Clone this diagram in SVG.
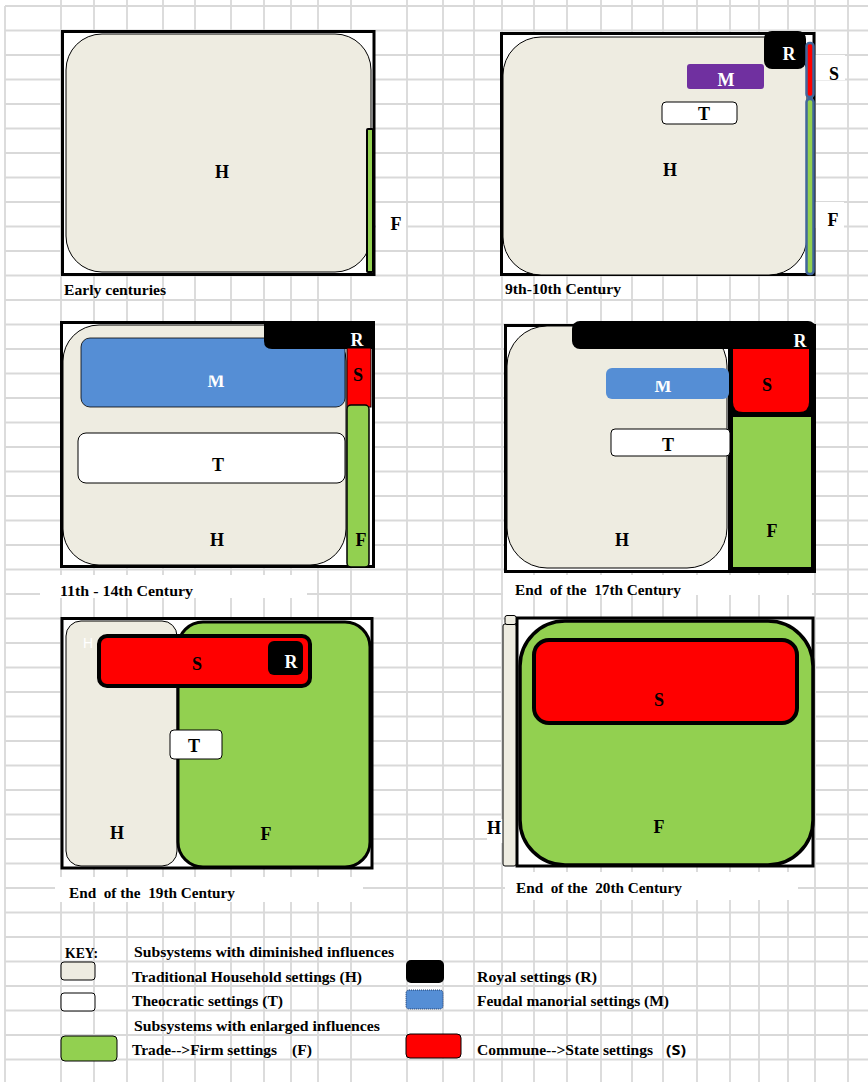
<svg xmlns="http://www.w3.org/2000/svg" width="868" height="1082" viewBox="0 0 868 1082">
<style>
.grid{stroke:#d9d9d9;stroke-width:1.8;fill:none}
.frame{fill:#fff;stroke:#000;stroke-width:3}
.hh{fill:#eeece1;stroke:#000;stroke-width:1}
.wb{fill:#fff;stroke:none}
.big{font-family:"Liberation Serif",serif;font-weight:bold;font-size:18px;text-anchor:middle;fill:#000}
.wt{fill:#fff}
.cap{font-family:"Liberation Serif",serif;font-weight:bold;font-size:15px;fill:#000}
.grn{fill:#92d050}
.red{fill:#ff0000}
.blu{fill:#558ed5}
</style>
<defs>
<clipPath id="c3"><rect x="150" y="375.5" width="140" height="20"/></clipPath>
<clipPath id="c4"><rect x="620" y="381" width="90" height="20"/></clipPath>
</defs>
<rect width="868" height="1082" fill="#fff"/>
<g id="grid" class="grid">
<path d="M5,6V1082M61,0V1082M94,0V1082M127,0V1082M163,0V1082M195,0V1082M231,0V1082M264,0V1082M291,0V1082M318,0V1082M351,0V1082M407,0V1082M443,0V1082M474,0V1082M502,0V1082M534,0V1082M567,0V1082M601,0V1082M632,0V1082M663,0V1082M697,0V1082M730,0V1082M759,0V1082M788,0V1082M815,0V1082M848,0V1082"/>
<path d="M5,6H868M5,30.5H868M5,55H868M5,79.5H868M5,104H868M5,128.5H868M5,153H868M5,177.5H868M5,202H868M5,226.5H868M5,251H868M5,275.5H868M5,300H868M5,324.5H868M5,349H868M5,373.5H868M5,398H868M5,422.5H868M5,447H868M5,471.5H868M5,496H868M5,520.5H868M5,545H868M5,569.5H868M5,594H868M5,618.5H868M5,643H868M5,667.5H868M5,692H868M5,716.5H868M5,741H868M5,765.5H868M5,790H868M5,814.5H868M5,839H868M5,863.5H868M5,888H868M5,912.5H868M5,937H868M5,961.5H868M5,986H868M5,1010.5H868M5,1035H868M5,1059.5H868"/>
</g>
<g id="label-boxes">
<rect class="wb" x="376" y="212" width="30" height="26"/>
<rect class="wb" x="815" y="55" width="30" height="25"/>
<rect class="wb" x="815" y="202" width="29" height="26"/>
<rect class="wb" x="40" y="575" width="267" height="23"/>
<rect class="wb" x="503" y="575" width="309" height="20"/>
<rect class="wb" x="55" y="877" width="308" height="25"/>
<rect class="wb" x="505" y="872" width="293" height="28"/>
<rect class="wb" x="487" y="819" width="26" height="24"/>
</g>
<g id="panel1">
<rect class="frame" x="62.5" y="31.5" width="311.5" height="243"/>
<rect class="hh" x="66" y="34" width="305" height="238" rx="36"/>
<rect x="367" y="129" width="6" height="143" rx="1" class="grn" stroke="#000" stroke-width="2"/>
<text class="big" x="222" y="178">H</text>
<text class="big" x="396" y="230">F</text>
<text class="cap" x="64" y="295" textLength="102" lengthAdjust="spacingAndGlyphs">Early centuries</text>
</g>
<g id="panel2">
<rect class="frame" x="501.5" y="33.5" width="312.5" height="241"/>
<rect class="hh" x="503" y="37" width="304" height="238" rx="38"/>
<rect x="764" y="31" width="42" height="38" rx="8" fill="#000"/>
<rect x="687" y="64" width="77" height="25" rx="3" fill="#7030a0"/>
<rect x="662" y="102" width="75" height="22" rx="4" fill="#fff" stroke="#000" stroke-width="1"/>
<rect x="806.5" y="43" width="7" height="54" rx="3" class="red" stroke="#41669a" stroke-width="2.5"/>
<rect x="806.5" y="99" width="7" height="175" rx="3" class="grn" stroke="#41669a" stroke-width="2.5"/>
<text class="big wt" x="789" y="59.5">R</text>
<text class="big wt" x="726" y="85.5">M</text>
<text class="big" x="704" y="119.5">T</text>
<text class="big" x="670" y="175.5">H</text>
<text class="big" x="834" y="79.5">S</text>
<text class="big" x="833" y="225.5">F</text>
<text class="cap" x="505" y="294" textLength="116" lengthAdjust="spacingAndGlyphs">9th-10th Century</text>
</g>
<g id="panel3">
<rect class="frame" x="61.5" y="322.5" width="312" height="244"/>
<rect class="hh" x="63" y="325" width="283" height="240" rx="36"/>
<rect x="81" y="338" width="264" height="69" rx="9" class="blu" stroke="#000" stroke-width="0.8"/>
<rect x="78" y="433" width="267" height="50" rx="8" fill="#fff" stroke="#000" stroke-width="1"/>
<path d="M264,321H373V349H272Q264,349 264,341Z" fill="#000"/>
<rect x="347" y="348" width="24" height="59" class="red" stroke="#000" stroke-width="1"/>
<rect x="347" y="405" width="22" height="162" rx="4" class="grn" stroke="#000" stroke-width="1.5"/>
<text class="big wt" x="216" y="386.5" clip-path="url(#c3)">M</text>
<text class="big" x="218" y="470.5">T</text>
<text class="big wt" x="357" y="346">R</text>
<text class="big" x="358" y="380.5">S</text>
<text class="big" x="361" y="546">F</text>
<text class="big" x="217" y="545.5">H</text>
<text class="cap" x="60" y="596" textLength="133" lengthAdjust="spacingAndGlyphs">11th - 14th Century</text>
</g>
<g id="panel4">
<rect class="frame" x="505.5" y="325.5" width="309" height="246"/>
<rect class="hh" x="507" y="326" width="220" height="242" rx="40"/>
<rect x="728" y="345" width="87" height="227" fill="#000"/>
<path d="M733,349H809V402Q809,412 799,412H743Q733,412 733,402Z" class="red"/>
<rect x="733" y="417" width="78" height="150" class="grn"/>
<rect x="572" y="321" width="244" height="28" rx="8" fill="#000"/>
<rect x="606" y="368" width="123" height="31" rx="6" class="blu"/>
<rect x="611" y="429" width="119" height="27" rx="4" fill="#fff" stroke="#000" stroke-width="1"/>
<text class="big wt" x="800" y="346.5">R</text>
<text class="big wt" x="663" y="391.5" clip-path="url(#c4)">M</text>
<text class="big" x="668" y="451">T</text>
<text class="big" x="767" y="390.5">S</text>
<text class="big" x="772" y="536.5">F</text>
<text class="big" x="622" y="545.5">H</text>
<text class="cap" x="515" y="595" textLength="166" lengthAdjust="spacingAndGlyphs" xml:space="preserve">End  of the  17th Century</text>
</g>
<g id="panel5">
<rect class="frame" x="62" y="618.5" width="310" height="249.5"/>
<rect class="hh" x="66" y="621" width="111" height="245" rx="15"/>
<rect x="178" y="622" width="192" height="245" rx="25" class="grn" stroke="#000" stroke-width="3"/>
<rect x="99" y="636" width="211" height="50" rx="8" class="red" stroke="#000" stroke-width="4"/>
<rect x="268" y="641" width="35" height="34" rx="6" fill="#000"/>
<rect x="170" y="730" width="52" height="29" rx="4" fill="#fff" stroke="#000" stroke-width="1"/>
<text x="88" y="648" font-family="Liberation Sans, sans-serif" font-size="14" fill="#fff" text-anchor="middle">H</text>
<text class="big" x="197" y="669.5">S</text>
<text class="big wt" x="291" y="667.5">R</text>
<text class="big" x="194" y="752">T</text>
<text class="big" x="117" y="838.5">H</text>
<text class="big" x="266" y="839.5">F</text>
<text class="cap" x="69" y="898" textLength="166" lengthAdjust="spacingAndGlyphs" xml:space="preserve">End  of the  19th Century</text>
</g>
<g id="panel6">
<rect class="frame" x="517" y="618" width="296" height="248"/>
<rect x="520" y="621" width="293" height="244" rx="45" class="grn" stroke="#000" stroke-width="3.5"/>
<rect x="534" y="640" width="263" height="83" rx="15" class="red" stroke="#000" stroke-width="4"/>
<rect class="hh" x="503" y="624" width="13" height="242" rx="2" stroke-width="1.5"/>
<rect class="hh" x="505" y="615.5" width="11" height="9" rx="2" stroke-width="2.5"/>
<text class="big" x="659" y="705.5">S</text>
<text class="big" x="659" y="832.5">F</text>
<text class="big" x="494" y="833.5">H</text>
<text class="cap" x="516" y="893" textLength="166" lengthAdjust="spacingAndGlyphs" xml:space="preserve">End  of the  20th Century</text>
</g>
<g id="key">
<text class="cap" x="65" y="958" textLength="33" lengthAdjust="spacingAndGlyphs">KEY:</text>
<text class="cap" x="134" y="957" textLength="260" lengthAdjust="spacingAndGlyphs">Subsystems with diminished influences</text>
<rect class="hh" x="61" y="962" width="34" height="18" rx="3"/>
<text class="cap" x="132" y="982" textLength="230" lengthAdjust="spacingAndGlyphs">Traditional Household settings (H)</text>
<rect x="61" y="993" width="34" height="18" rx="3" fill="#fff" stroke="#000" stroke-width="1"/>
<text class="cap" x="132" y="1006" textLength="151" lengthAdjust="spacingAndGlyphs">Theocratic settings (T)</text>
<text class="cap" x="134" y="1031" textLength="246" lengthAdjust="spacingAndGlyphs">Subsystems with enlarged influences</text>
<rect x="61" y="1036" width="56" height="25" rx="4" class="grn" stroke="#000" stroke-width="1"/>
<text class="cap" x="132" y="1055" textLength="145" lengthAdjust="spacingAndGlyphs">Trade--&gt;Firm settings</text>
<text class="cap" x="292" y="1055" textLength="20" lengthAdjust="spacingAndGlyphs">(F)</text>
<rect x="406" y="960" width="38" height="23" rx="5" fill="#000"/>
<text class="cap" x="477" y="982" textLength="120" lengthAdjust="spacingAndGlyphs">Royal settings (R)</text>
<rect x="406" y="990" width="37" height="19" rx="3" class="blu" stroke="#1f3864" stroke-width="1" stroke-dasharray="1,1"/>
<text class="cap" x="477" y="1006" textLength="192" lengthAdjust="spacingAndGlyphs">Feudal manorial settings (M)</text>
<rect x="406" y="1034" width="55" height="24" rx="4" class="red" stroke="#000" stroke-width="1"/>
<text class="cap" x="477" y="1055" textLength="176" lengthAdjust="spacingAndGlyphs">Commune--&gt;State settings</text>
<text x="666" y="1055" font-family="Open Sans, sans-serif" font-weight="bold" font-size="15" textLength="20" lengthAdjust="spacingAndGlyphs">(S)</text>
</g>
</svg>
